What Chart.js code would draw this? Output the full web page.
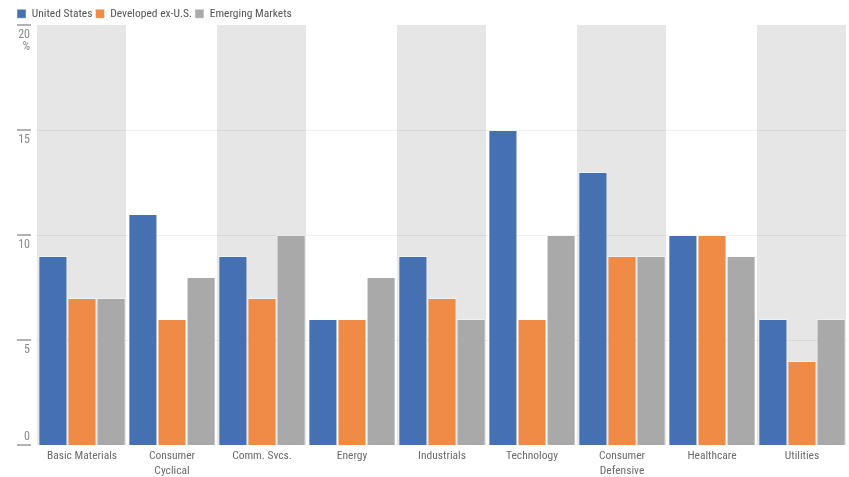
<!DOCTYPE html>
<html>
<head>
<meta charset="utf-8">
<script src="https://cdn.jsdelivr.net/npm/chart.js@4/dist/chart.umd.min.js"></script>
<style>
  html, body { margin: 0; padding: 0; background: #ffffff; }
  #wrap { width: 849px; height: 477px; }
</style>
</head>
<body>
<div id="wrap"><canvas id="chart"></canvas></div>
<script>
// Sector weights (%) by region
const sectors = [
  'Basic Materials', ['Consumer', 'Cyclical'], 'Comm. Svcs.', 'Energy', 'Industrials',
  'Technology', ['Consumer', 'Defensive'], 'Healthcare', 'Utilities'
];
const unitedStates = [9, 11, 9, 6, 9, 15, 13, 10, 6];
const developedExUS = [7, 6, 7, 6, 7, 6, 9, 10, 4];
const emergingMarkets = [7, 8, 10, 8, 6, 10, 9, 9, 6];
const yTicks = [0, 5, 10, 15, 20];

const FONT = "'Roboto Condensed', 'Roboto', sans-serif";

// Alternating shaded category bands plus light horizontal grid lines
const bandPlugin = {
  id: 'bands',
  beforeDatasetsDraw(chart) {
    const { ctx, chartArea, scales } = chart;
    const x = scales.x, y = scales.y;
    const n = sectors.length;
    const w = (chartArea.right - chartArea.left) / n;
    ctx.save();
    ctx.fillStyle = '#e6e6e6';
    for (let i = 0; i < n; i += 2) {
      const cx = x.getPixelForValue(i);
      ctx.fillRect(cx - w / 2, chartArea.top, w - 1, chartArea.bottom - chartArea.top);
    }
    ctx.strokeStyle = 'rgba(0,0,0,0.06)';
    ctx.lineWidth = 1;
    yTicks.filter(v => v > 0 && v < 20).forEach(v => {
      const py = Math.round(y.getPixelForValue(v)) + 0.5;
      ctx.beginPath();
      ctx.moveTo(chartArea.left, py);
      ctx.lineTo(chartArea.right, py);
      ctx.stroke();
    });
    ctx.restore();
  }
};

// Value axis: short tick marks with the label set under each mark
const yLabelPlugin = {
  id: 'yLabels',
  afterDraw(chart) {
    const { ctx, scales } = chart;
    const y = scales.y;
    ctx.save();
    ctx.font = '12px ' + FONT;
    ctx.fillStyle = '#8a8a8a';
    ctx.textAlign = 'right';
    ctx.textBaseline = 'middle';
    yTicks.forEach(v => {
      const py = y.getPixelForValue(v);
      ctx.strokeStyle = '#9a9a9a';
      ctx.lineWidth = 1.5;
      ctx.beginPath();
      ctx.moveTo(17, py);
      ctx.lineTo(31, py);
      ctx.stroke();
      if (v === 0) {
        ctx.fillText(String(v), 30, py - 8);
      } else {
        ctx.fillText(String(v), 30, py + 10);
        if (v === 20) ctx.fillText('%', 30, py + 22);
      }
    });
    ctx.restore();
  }
};

const ds = (label, data, color) => ({
  label, data,
  backgroundColor: color,
  borderColor: 'rgba(255,255,255,0.45)',
  borderWidth: 1,
  categoryPercentage: 0.97,
  barPercentage: 1.0
});

new Chart(document.getElementById('chart'), {
  type: 'bar',
  data: {
    labels: sectors,
    datasets: [
      ds('United States', unitedStates, '#4571b3'),
      ds('Developed ex-U.S.', developedExUS, '#ef8b47'),
      ds('Emerging Markets', emergingMarkets, '#a9a9a9')
    ]
  },
  options: {
    responsive: true,
    maintainAspectRatio: false,
    animation: false,
    layout: { padding: { left: 14, right: 2, top: 5, bottom: 0 } },
    plugins: {
      legend: {
        position: 'top',
        align: 'start',
        maxHeight: 20,
        labels: {
          boxWidth: 9,
          boxHeight: 9,
          padding: 3,
          color: '#555555',
          font: { size: 11.5, family: FONT }
        }
      },
      tooltip: { enabled: false }
    },
    scales: {
      x: {
        grid: { display: false, drawTicks: false },
        border: { display: false },
        ticks: {
          color: '#6b6b6b',
          font: { size: 11.5, family: FONT, lineHeight: 1.3 },
          padding: 4,
          maxRotation: 0,
          autoSkip: false
        },
        afterFit(scale) { scale.height = 32; }
      },
      y: {
        min: 0,
        max: 20,
        grid: { display: false, drawTicks: false },
        border: { display: false },
        ticks: { display: false, stepSize: 5 },
        afterFit(scale) { scale.width = 23; }
      }
    }
  },
  plugins: [bandPlugin, yLabelPlugin]
});
</script>
</body>
</html>
